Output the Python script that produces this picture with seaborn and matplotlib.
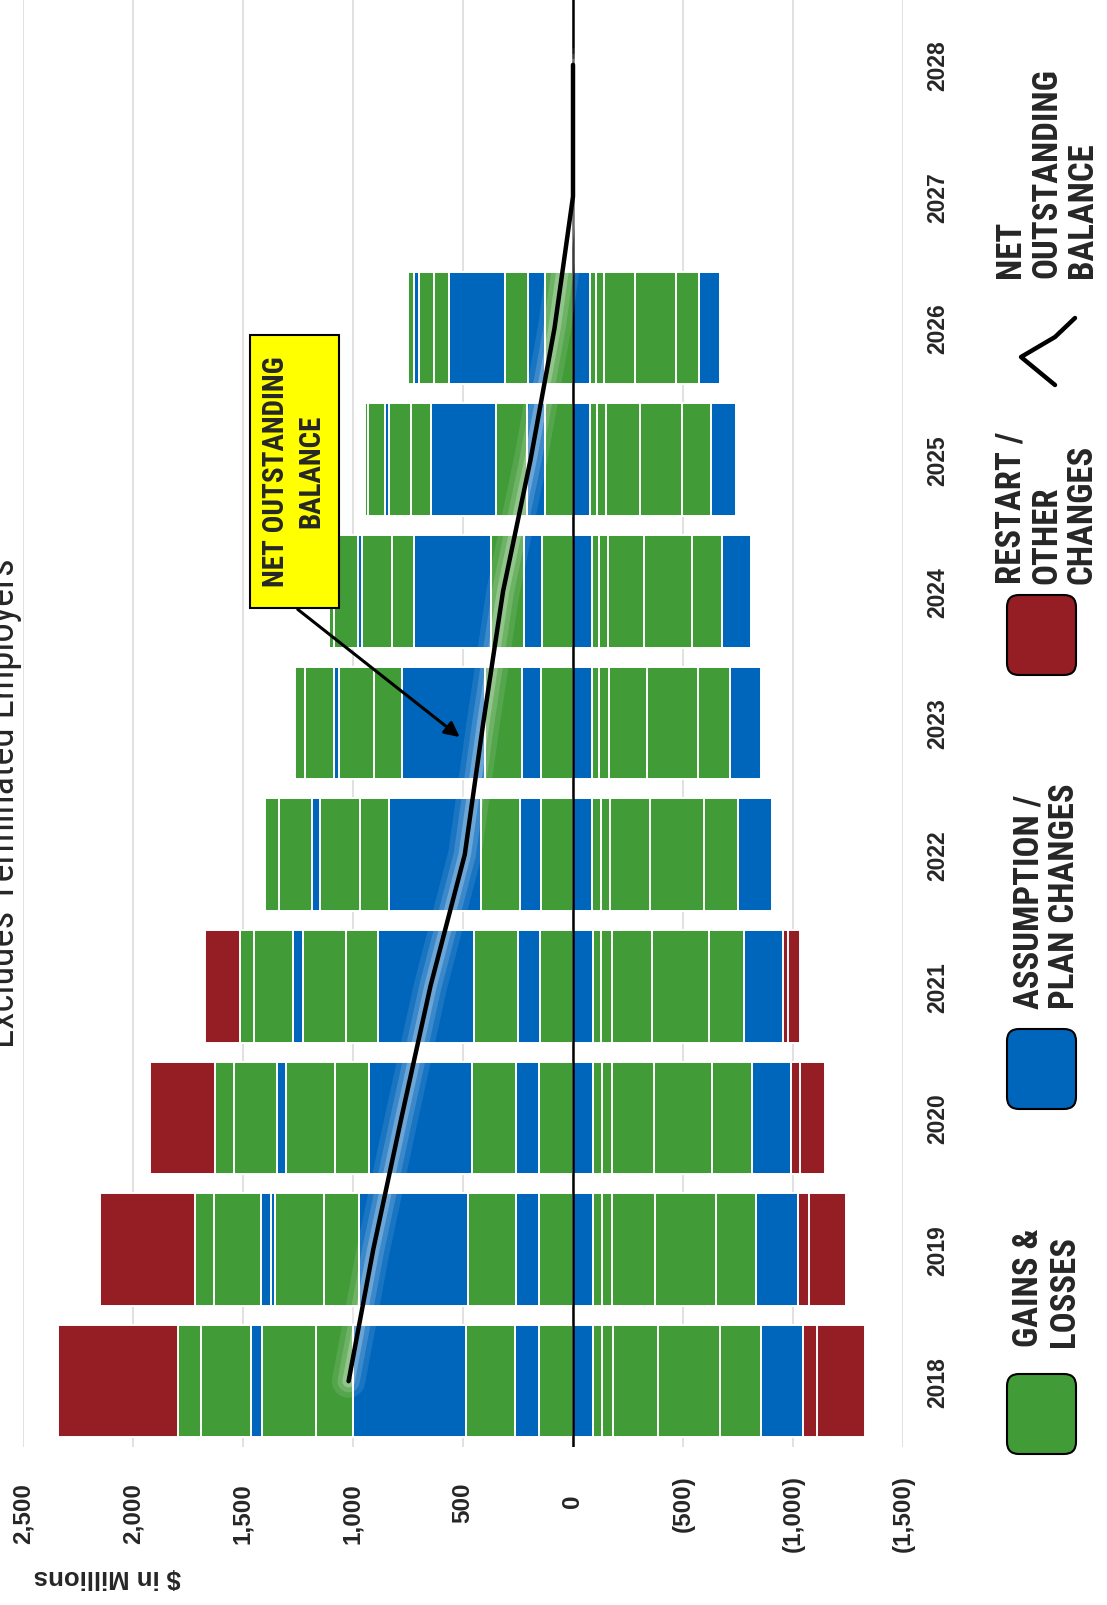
import numpy as np
import matplotlib
matplotlib.use("Agg")
import matplotlib.pyplot as plt
import matplotlib.font_manager as fm
import matplotlib.patheffects as pe
from matplotlib.patches import FancyBboxPatch, Rectangle
from matplotlib.lines import Line2D
from matplotlib.transforms import blended_transform_factory
import seaborn as sns

# ---------------------------------------------------------------- data ($M)
years = [2018, 2019, 2020, 2021, 2022, 2023, 2024, 2025, 2026, 2027, 2028]
year_labels = [str(y) for y in years]

# layers above zero, listed from the axis outward
gain_p1 = [154, 154, 154, 149, 147, 146, 141, 129, 127, 0, 0]
assume_p1 = [111, 105, 105, 101, 95, 88, 82, 82, 77, 0, 0]
gain_p2 = [220, 218, 202, 198, 177, 164, 152, 139, 107, 0, 0]
assume_p2 = [513, 497, 466, 437, 418, 381, 347, 295, 254, 0, 0]
gain_p3 = [168, 156, 156, 148, 132, 125, 102, 91, 67, 0, 0]
gain_p4 = [248, 223, 220, 195, 181, 159, 136, 100, 67, 0, 0]
assume_p3 = [0, 20, 0, 0, 0, 0, 0, 0, 0, 0, 0]
assume_p4 = [50, 44, 42, 44, 36, 24, 18, 20, 23, 0, 0]
gain_p5 = [229, 213, 194, 179, 152, 131, 107, 74, 27, 0, 0]
gain_p6 = [103, 87, 88, 63, 62, 45, 25, 15, 0, 0, 0]
restart_p1 = [544, 431, 295, 158, 0, 0, 0, 0, 0, 0, 0]

# layers below zero, listed from the axis outward
assume_n1 = [-93, -93, -93, -93, -86, -86, -86, -78, -75, 0, 0]
gain_n1 = [-41, -41, -41, -34, -41, -31, -34, -29, -31, 0, 0]
gain_n2 = [-47, -41, -41, -49, -40, -47, -39, -42, -37, 0, 0]
gain_n3 = [-204, -199, -193, -184, -183, -172, -163, -154, -137, 0, 0]
gain_n4 = [-281, -275, -265, -260, -245, -234, -219, -194, -187, 0, 0]
gain_n5 = [-187, -184, -181, -159, -154, -144, -137, -129, -105, 0, 0]
assume_n2 = [-192, -190, -179, -174, -154, -139, -132, -115, -96, 0, 0]
restart_n1 = [-62, -51, -37, -25, 0, 0, 0, 0, 0, 0, 0]
restart_n2 = [-222, -167, -115, -52, 0, 0, 0, 0, 0, 0, 0]

net_balance = [1020, 908, 780, 648, 492, 408, 318, 193, 84, 0, 0]

value_ticks = [2500, 2000, 1500, 1000, 500, 0, -500, -1000, -1500]
tick_text = ["2,500", "2,000", "1,500", "1,000", "500", "0",
             "(500)", "(1,000)", "(1,500)"]

COLORS = {"gain": "#419b37", "assume": "#0066bb", "restart": "#941e24"}

positive_stack = [("gain", gain_p1), ("assume", assume_p1), ("gain", gain_p2),
                  ("assume", assume_p2), ("gain", gain_p3), ("gain", gain_p4),
                  ("assume", assume_p3), ("assume", assume_p4), ("gain", gain_p5),
                  ("gain", gain_p6), ("restart", restart_p1)]
negative_stack = [("assume", assume_n1), ("gain", gain_n1), ("gain", gain_n2),
                  ("gain", gain_n3), ("gain", gain_n4), ("gain", gain_n5),
                  ("assume", assume_n2), ("restart", restart_n1),
                  ("restart", restart_n2)]

# ---------------------------------------------------------------- fonts
sns.set_theme(style="white")
plt.rcParams["font.family"] = ["Liberation Sans", "DejaVu Sans"]
_avail = {f.name for f in fm.fontManager.ttflist}
NARROW = next((n for n in ("Liberation Sans Narrow", "Roboto Condensed",
                           "Open Sans Condensed", "Arial Narrow") if n in _avail), None)
if NARROW:
    NARROW_FAM = [NARROW, "DejaVu Sans"]
    NS = 1.0
else:
    NARROW_FAM = ["Liberation Sans", "DejaVu Sans"]
    NS = 0.82

# ---------------------------------------------------------------- figure
W, H = 1107, 1606
fig = plt.figure(figsize=(W / 100, H / 100), dpi=100)
ax = fig.add_axes([23 / W, (H - 1448) / H, 880 / W, 1448 / H])
ax.set_axisbelow(True)
ax.grid(axis="x", color="#d9d9d9", linewidth=1.1, zorder=0)


def draw_stack(layers):
    cum = np.zeros(len(years))
    cums = []
    for kind, vals in layers:
        v = np.asarray(vals, dtype=float)
        cum = cum + v
        cums.append((kind, cum.copy(), v))
    # outermost first so each inner layer sits on top
    for kind, c, v in reversed(cums):
        mask = v != 0
        if not mask.any():
            continue
        sns.barplot(x=c[mask], y=[year_labels[i] for i in np.where(mask)[0]],
                    order=year_labels, orient="h", color=COLORS[kind],
                    saturation=1, width=0.855, edgecolor="white", linewidth=1.4,
                    errorbar=None, ax=ax, zorder=2)


draw_stack(positive_stack)
draw_stack(negative_stack)

ax.set_xlim(2500, -1500)
ax.set_ylim(-0.5, len(years) - 0.5)
ax.axvline(0, color="black", linewidth=1.8, zorder=4)

# net outstanding balance line with soft glow
glow = [pe.Stroke(linewidth=24, foreground="white", alpha=0.10),
        pe.Stroke(linewidth=16, foreground="white", alpha=0.15),
        pe.Stroke(linewidth=9, foreground="white", alpha=0.25),
        pe.Normal()]
ax.plot(net_balance, np.arange(len(years)), color="black", linewidth=3.2,
        solid_capstyle="round", zorder=6, path_effects=glow)

for s in ax.spines.values():
    s.set_visible(False)
ax.set_xlabel("")
ax.set_ylabel("")

# year labels on the right
ax.yaxis.tick_right()
ax.set_yticks(np.arange(len(years)))
ax.set_yticklabels(year_labels, rotation=90, va="center", ha="left",
                   fontweight="bold", fontsize=16.5)
ax.tick_params(axis="y", length=0, pad=17, left=False, labelleft=False,
               right=True, labelright=True)

# value labels along the bottom
ax.set_xticks(value_ticks)
ax.set_xticklabels([])
ax.tick_params(axis="x", length=0)
btr = blended_transform_factory(ax.transData, ax.transAxes)
for v, t in zip(value_ticks, tick_text):
    if v > 0:
        ax.text(v, -35 / 1448, t, transform=btr, rotation=90, ha="center",
                va="top", fontsize=17.5, fontweight="bold")
    elif v < 0:
        ax.text(v, -27 / 1448, t, transform=btr, rotation=90, ha="center",
                va="top", fontsize=17.5, fontweight="bold")
    else:
        ax.text(v, -53 / 1448, t, transform=btr, rotation=90, ha="center",
                va="center", fontsize=17.5, fontweight="bold")

fig.text(107 / W, 1 - 1577 / H, "$ in Millions", rotation=180, ha="center",
         va="center", fontsize=18.5, fontweight="bold")

# title, running along the left edge
fig.text(22 / W, 0.5, "Excludes Terminated Employers", rotation=90,
         ha="right", va="center", fontsize=28 * NS, family=NARROW_FAM)

# callout
ax.add_patch(Rectangle((1065, 5.875), 404, 2.075, facecolor="#ffff00",
                       edgecolor="black", linewidth=1.5, zorder=9))
ax.text(1269, 6.916, "NET OUTSTANDING\nBALANCE", rotation=90, ha="center",
        va="center", multialignment="center", fontsize=21 * NS,
        fontweight="bold", family=NARROW_FAM, linespacing=1.35, zorder=10)
ax.annotate("", xy=(515, 4.893), xytext=(1251, 5.863),
            arrowprops=dict(arrowstyle="-|>", color="black", lw=2.2,
                            mutation_scale=22, shrinkA=0, shrinkB=0),
            zorder=10)

# legend along the right edge (inches from bottom-left)
itr = fig.dpi_scale_trans
for kind, ytop in (("gain", 1375), ("assume", 1030), ("restart", 596)):
    fig.patches.append(FancyBboxPatch((10.07, (H - ytop - 80) / 100), 0.69, 0.80,
                                      boxstyle="round,pad=0,rounding_size=0.12",
                                      facecolor=COLORS[kind], edgecolor="black",
                                      linewidth=1.5, transform=itr, figure=fig))
icon = np.array([(1055, 386), (1021, 358), (1055, 338), (1075, 319)], dtype=float)
fig.lines.append(Line2D(icon[:, 0] / 100, (H - icon[:, 1]) / 100, color="black",
                        linewidth=3.2, transform=itr, figure=fig))

legend_text = [("GAINS &\nLOSSES", 1347), ("ASSUMPTION /\nPLAN CHANGES", 1009),
               ("RESTART /\nOTHER\nCHANGES", 584),
               ("NET\nOUTSTANDING\nBALANCE", 278)]
for txt, ybot in legend_text:
    fig.text(10.465, (H - ybot) / 100, txt, transform=itr, rotation=90,
             ha="center", va="bottom", multialignment="left",
             fontsize=25 * NS, fontweight="bold", family=NARROW_FAM,
             linespacing=1.1)

fig.savefig("out.png", dpi=100)
